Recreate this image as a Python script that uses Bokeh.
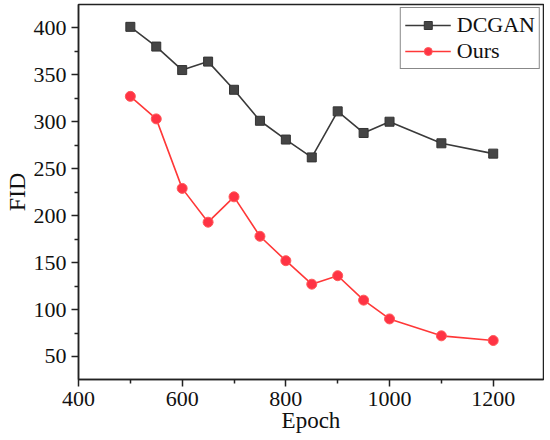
from bokeh.plotting import figure
from bokeh.embed import file_html
from bokeh.resources import INLINE
from bokeh.models import Range1d, FixedTicker, Legend, LegendItem

epochs = [500, 550, 600, 650, 700, 750, 800, 850, 900, 950, 1000, 1100, 1200]
dcgan = [401, 380, 355, 364, 334, 301, 281, 262, 311, 288, 300, 277, 266]
ours = [327, 303, 229, 193, 220, 178, 152, 127, 136, 110, 90, 72, 67]
x_ticks = [400, 600, 800, 1000, 1200]
y_ticks = [50, 100, 150, 200, 250, 300, 350, 400]

FONT = "Liberation Serif"

p = figure(width=544, height=436, output_backend="svg", toolbar_location=None,
           x_range=Range1d(400, 1297), y_range=Range1d(25.5, 424.8),
           min_border_left=78, min_border_right=1, min_border_top=4, min_border_bottom=57)

p.xgrid.visible = False
p.ygrid.visible = False
p.outline_line_color = "#222222"
p.outline_line_width = 1.5

l1 = p.line(epochs, dcgan, line_color="#3a3a3a", line_width=1.6)
m1 = p.scatter(epochs, dcgan, marker="square", size=9, fill_color="#454545", line_color="#333333")
l2 = p.line(epochs, ours, line_color="#ff3838", line_width=1.6)
m2 = p.scatter(epochs, ours, marker="circle", size=10, fill_color="#ff3344", line_color="#ff5a5a")

for ax in (p.xaxis[0], p.yaxis[0]):
    ax.axis_line_color = "#222222"
    ax.axis_line_width = 1.5
    ax.major_tick_line_color = "#222222"
    ax.minor_tick_line_color = "#222222"
    ax.major_tick_line_width = 1.5
    ax.minor_tick_line_width = 1.5
    ax.major_tick_in = 0
    ax.major_tick_out = 7
    ax.minor_tick_in = 0
    ax.minor_tick_out = 4
    ax.major_label_text_font = FONT
    ax.major_label_text_font_size = "22px"
    ax.major_label_text_color = "#111111"
    ax.axis_label_text_font = FONT
    ax.axis_label_text_font_style = "normal"
    ax.axis_label_text_color = "#111111"

p.xaxis[0].ticker = FixedTicker(ticks=x_ticks, minor_ticks=[500, 700, 900, 1100, 1300])
p.yaxis[0].ticker = FixedTicker(ticks=y_ticks, minor_ticks=[75, 125, 175, 225, 275, 325, 375, 425])
p.xaxis[0].axis_label = "Epoch"
p.xaxis[0].axis_label_text_font_size = "23px"
p.xaxis[0].axis_label_standoff = -1
p.xaxis[0].major_label_standoff = 5
p.yaxis[0].axis_label = "FID"
p.yaxis[0].axis_label_text_font_size = "24px"
p.yaxis[0].axis_label_standoff = 1
p.yaxis[0].major_label_standoff = 5

legend = Legend(items=[LegendItem(label="DCGAN", renderers=[l1, m1]),
                       LegendItem(label="Ours", renderers=[l2, m2])],
                location="top_right")
legend.label_text_font = FONT
legend.label_text_font_size = "22px"
legend.label_text_color = "#111111"
legend.border_line_color = "#111111"
legend.border_line_width = 1.5
legend.glyph_width = 46
legend.glyph_height = 20
legend.label_height = 20
legend.spacing = 0
legend.padding = 4
legend.margin = 3
legend.label_standoff = 6
legend.background_fill_alpha = 1.0
p.add_layout(legend)

open("out.html", "w").write(file_html(p, INLINE))
